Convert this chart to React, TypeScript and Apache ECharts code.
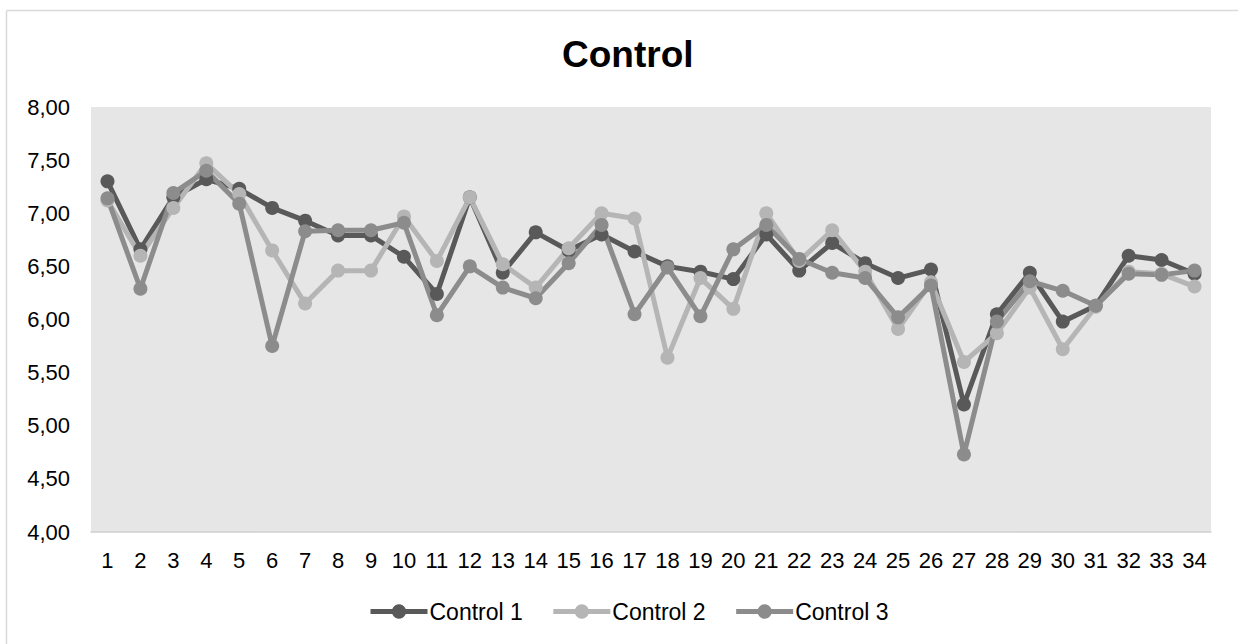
import React, { useEffect, useRef } from "react";
import * as echarts from "echarts";

const categories = Array.from({ length: 34 }, (_, i) => String(i + 1));

const control1 = [7.30, 6.66, 7.15, 7.32, 7.23, 7.05, 6.93, 6.79, 6.79, 6.59, 6.24, 7.15, 6.44, 6.82, 6.65, 6.80, 6.64, 6.50, 6.45, 6.38, 6.80, 6.46, 6.72, 6.53, 6.39, 6.47, 5.20, 6.05, 6.44, 5.98, 6.13, 6.60, 6.56, 6.43];
const control2 = [7.12, 6.60, 7.05, 7.47, 7.18, 6.65, 6.15, 6.46, 6.46, 6.97, 6.55, 7.15, 6.52, 6.30, 6.67, 7.00, 6.95, 5.64, 6.39, 6.10, 7.00, 6.55, 6.84, 6.45, 5.91, 6.35, 5.60, 5.87, 6.30, 5.72, 6.12, 6.45, 6.43, 6.31];
const control3 = [7.14, 6.29, 7.19, 7.40, 7.09, 5.75, 6.83, 6.84, 6.84, 6.91, 6.04, 6.50, 6.30, 6.20, 6.53, 6.89, 6.05, 6.49, 6.03, 6.66, 6.89, 6.57, 6.44, 6.39, 6.02, 6.32, 4.73, 5.98, 6.36, 6.27, 6.13, 6.43, 6.42, 6.46];

const seriesNames = ["Control 1", "Control 2", "Control 3"];
const seriesColors = ["#595959", "#b5b5b5", "#8c8c8c"];

const FONT = "'Liberation Sans', Arial, sans-serif";

export default function App() {
  const ref = useRef<HTMLDivElement>(null);
  useEffect(() => {
    if (!ref.current) return;
    const chart = echarts.init(ref.current, null, { renderer: "svg" });
    const data = [control1, control2, control3];
    chart.setOption({
      animation: false,
      backgroundColor: "#ffffff",
      title: {
        text: "Control",
        left: 557,
        top: 31,
        textStyle: { fontFamily: FONT, fontSize: 37, fontWeight: "bold", color: "#000000" },
      },
      graphic: [
        { type: "line", shape: { x1: 6.5, y1: 10.5, x2: 1238, y2: 10.5 }, style: { stroke: "#d9d9d9", lineWidth: 1.5 } },
        { type: "line", shape: { x1: 6.5, y1: 10.5, x2: 6.5, y2: 644 }, style: { stroke: "#d9d9d9", lineWidth: 1.5 } },
      ],
      legend: {
        top: 595,
        left: 363,
        itemWidth: 57,
        itemHeight: 18,
        itemGap: 28,
        lineStyle: { width: 5 },
        textStyle: { fontFamily: FONT, fontSize: 23, color: "#000000", padding: [0, 0, 0, -3] },
        data: seriesNames,
      },
      grid: {
        left: 91,
        right: 27,
        top: 107,
        bottom: 112,
        show: true,
        backgroundColor: "#e6e6e6",
        borderWidth: 0,
      },
      xAxis: {
        type: "category",
        data: categories,
        boundaryGap: true,
        axisLine: { show: true, lineStyle: { color: "#d0d0d0", width: 1.5 } },
        axisTick: { show: false },
        axisLabel: { fontFamily: FONT, fontSize: 22, color: "#000000", margin: 17, interval: 0 },
      },
      yAxis: {
        type: "value",
        min: 4,
        max: 8,
        interval: 0.5,
        splitLine: { show: false },
        axisLine: { show: false },
        axisTick: { show: false },
        axisLabel: {
          fontFamily: FONT,
          fontSize: 22,
          color: "#000000",
          margin: 21,
          formatter: (v: number) => v.toFixed(2).replace(".", ","),
        },
      },
      series: data.map((d, i) => ({
        name: seriesNames[i],
        type: "line",
        data: d,
        symbol: "circle",
        symbolSize: 14,
        lineStyle: { width: 5, color: seriesColors[i] },
        itemStyle: { color: seriesColors[i] },
        emphasis: { disabled: true },
      })),
    });
    return () => chart.dispose();
  }, []);
  return (
    <div
      ref={ref}
      style={{ position: "fixed", left: 0, top: 0, width: 1238, height: 644 }}
    />
  );
}
